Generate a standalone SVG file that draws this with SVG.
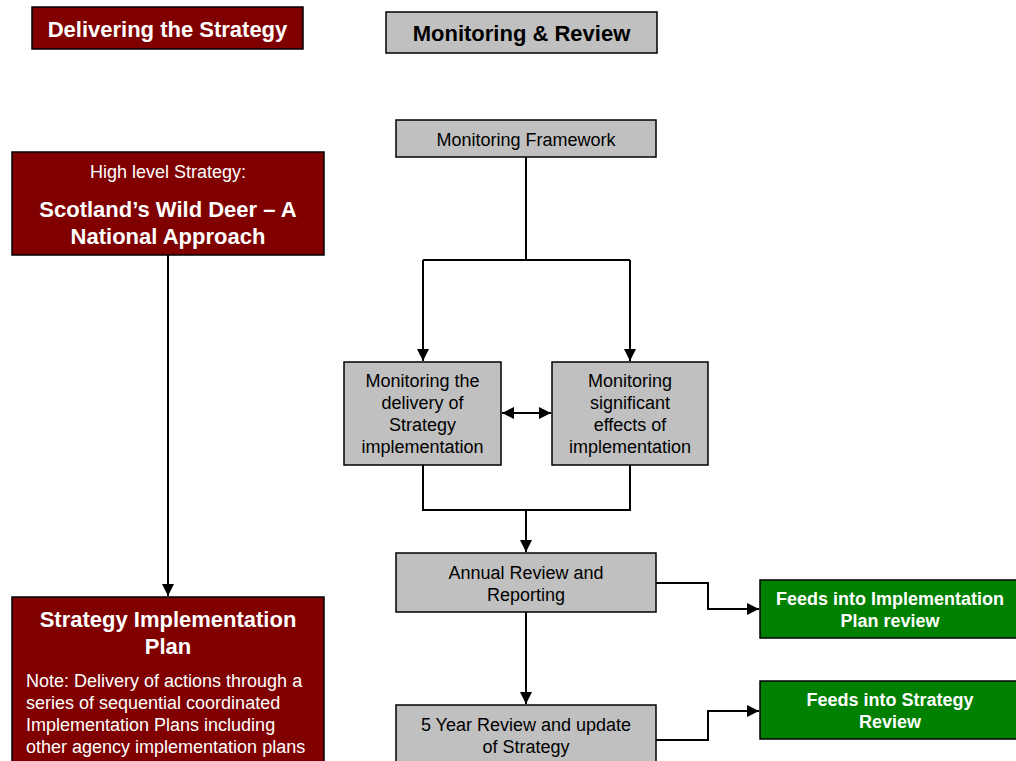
<svg xmlns="http://www.w3.org/2000/svg" width="1016" height="761" viewBox="0 0 1016 761">
<defs>
<style>
.red{fill:#800000;stroke:#000;stroke-width:1.5}
.gray{fill:#c0c0c0;stroke:#000;stroke-width:1.5}
.green{fill:#008000;stroke:#000;stroke-width:1.5}
text{font-family:"Liberation Sans",Arial,sans-serif;text-anchor:middle}
.wb{fill:#fff;font-weight:bold;font-size:22px}
.w{fill:#fff;font-size:18px}
.k{fill:#000;font-size:18px}
.kb{fill:#000;font-weight:bold;font-size:22px}
.gb{fill:#fff;font-weight:bold;font-size:18px}
.c{fill:none;stroke:#000;stroke-width:2}
</style>
<marker id="ah2" viewBox="0 0 10 10" refX="10" refY="5" markerWidth="12" markerHeight="12" orient="auto-start-reverse" markerUnits="userSpaceOnUse">
<path d="M0,0 L10,5 L0,10 z" fill="#000"/>
</marker>
</defs>
<rect width="1016" height="761" fill="#fff"/>
<g id="connectors">
<path class="c" d="M168,255 V596" marker-end="url(#ah2)"/>
<path class="c" d="M526,157 V260"/>
<path class="c" d="M423,260 H630"/>
<path class="c" d="M423,260 V361" marker-end="url(#ah2)"/>
<path class="c" d="M630,260 V361" marker-end="url(#ah2)"/>
<path class="c" d="M502,413 H551" marker-start="url(#ah2)" marker-end="url(#ah2)"/>
<path class="c" d="M423,465 V510 H630 V465"/>
<path class="c" d="M526,510 V552" marker-end="url(#ah2)"/>
<path class="c" d="M526,612 V704" marker-end="url(#ah2)"/>
<path class="c" d="M656,583 H708 V609 H759" marker-end="url(#ah2)"/>
<path class="c" d="M656,740 H708 V711 H759" marker-end="url(#ah2)"/>
</g>
<g id="delivering">
<rect class="red" x="32" y="7" width="271" height="42"/>
<text class="wb" x="167.5" y="37">Delivering the Strategy</text>
</g>
<g id="monitoring-review">
<rect class="gray" x="386" y="12" width="271" height="41"/>
<text class="kb" x="521.5" y="41">Monitoring &amp; Review</text>
</g>
<g id="high-level">
<rect class="red" x="12" y="152" width="312" height="103"/>
<text class="w" x="168" y="178">High level Strategy:</text>
<text class="wb" x="168" y="217">Scotland’s Wild Deer – A</text>
<text class="wb" x="168" y="244">National Approach</text>
</g>
<g id="implementation-plan">
<rect class="red" x="12" y="597" width="312" height="170"/>
<text class="wb" x="168" y="627">Strategy Implementation</text>
<text class="wb" x="168" y="654">Plan</text>
<text class="w" x="26" y="687" style="text-anchor:start">Note: Delivery of actions through a</text>
<text class="w" x="26" y="709" style="text-anchor:start">series of sequential coordinated</text>
<text class="w" x="26" y="731" style="text-anchor:start">Implementation Plans including</text>
<text class="w" x="26" y="753" style="text-anchor:start">other agency implementation plans</text>
</g>
<g id="framework">
<rect class="gray" x="396" y="120" width="260" height="37"/>
<text class="k" x="526" y="146">Monitoring Framework</text>
</g>
<g id="delivery">
<rect class="gray" x="344" y="362" width="157" height="103"/>
<text class="k" x="422.5" y="387">Monitoring the</text>
<text class="k" x="422.5" y="409">delivery of</text>
<text class="k" x="422.5" y="431">Strategy</text>
<text class="k" x="422.5" y="453">implementation</text>
</g>
<g id="effects">
<rect class="gray" x="552" y="362" width="156" height="103"/>
<text class="k" x="630" y="387">Monitoring</text>
<text class="k" x="630" y="409">significant</text>
<text class="k" x="630" y="431">effects of</text>
<text class="k" x="630" y="453">implementation</text>
</g>
<g id="annual">
<rect class="gray" x="396" y="553" width="260" height="59"/>
<text class="k" x="526" y="579">Annual Review and</text>
<text class="k" x="526" y="601">Reporting</text>
</g>
<g id="five-year">
<rect class="gray" x="396" y="705" width="260" height="62"/>
<text class="k" x="526" y="731">5 Year Review and update</text>
<text class="k" x="526" y="753">of Strategy</text>
</g>
<g id="feeds-implementation">
<rect class="green" x="760" y="580" width="262" height="58"/>
<text class="gb" x="890" y="605">Feeds into Implementation</text>
<text class="gb" x="890" y="627">Plan review</text>
</g>
<g id="feeds-strategy">
<rect class="green" x="760" y="681" width="262" height="58"/>
<text class="gb" x="890" y="706">Feeds into Strategy</text>
<text class="gb" x="890" y="728">Review</text>
</g>
</svg>
